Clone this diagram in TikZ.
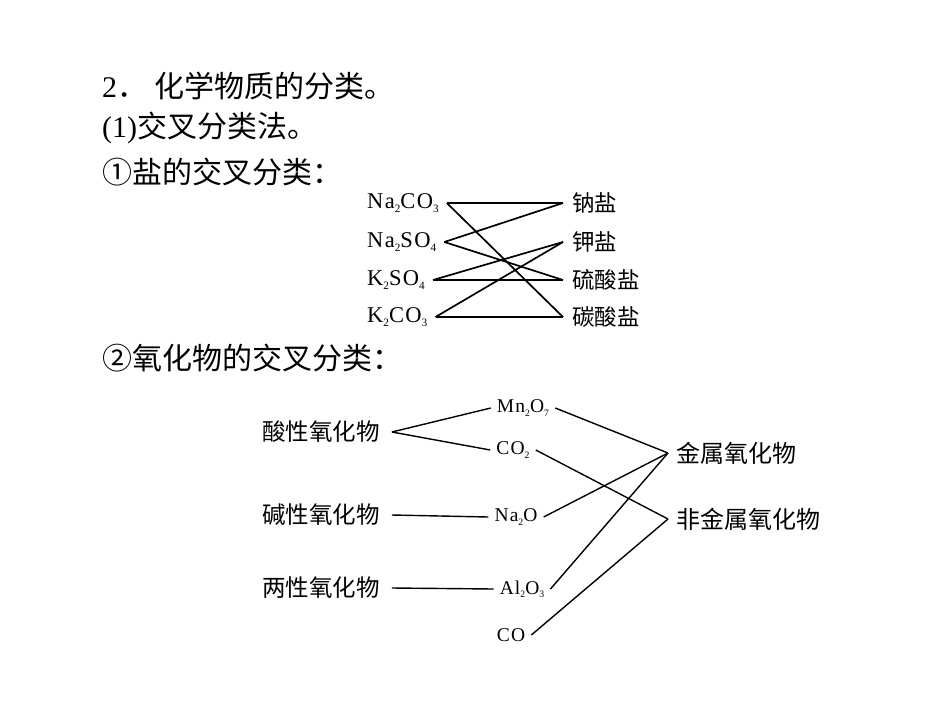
\documentclass[tikz,border=0pt]{standalone}
\usepackage{fontspec}
\setmainfont{Liberation Serif}
\newfontfamily\cjk{Noto Sans CJK SC}
\newfontfamily\formula[LetterSpace=6]{Liberation Serif}
\newcommand\subidx[1]{\raisebox{-0.35ex}{\scalebox{0.5}{#1}}}

\begin{document}
\begin{tikzpicture}[x=1pt,y=-1pt]

\tikzset{headline/.style={anchor=west, inner sep=0pt, font=\cjk\fontsize{30}{36}\selectfont}}
\tikzset{saltnode/.style={anchor=west, inner xsep=8pt, inner ysep=2pt, font=\formula\fontsize{22.5}{26}\selectfont}}
\tikzset{saltclass/.style={anchor=west, inner xsep=9pt, inner ysep=2pt, font=\cjk\fontsize{22.5}{26}\selectfont}}
\tikzset{oxnode/.style={inner xsep=6pt, inner ysep=2pt, font=\formula\fontsize{19.5}{23}\selectfont}}
\tikzset{oxclass/.style={anchor=west, inner xsep=12pt, inner ysep=2pt, font=\cjk\fontsize{23.5}{28}\selectfont}}
\tikzset{oxgroup/.style={anchor=west, inner xsep=8pt, inner ysep=2pt, font=\cjk\fontsize{24}{28}\selectfont}}
\tikzset{thickline/.style={line width=1.7pt}}
\tikzset{thinline/.style={line width=1.4pt}}

\useasboundingbox (0,0) rectangle (945,718);

\node[headline] (title) at (102,86) {{\rmfamily 2}．\hspace{7pt}化学物质的分类。};
\node[headline] (method) at (102,128) {{\rmfamily (1)}交叉分类法。};
\node[headline] (salthead) at (102,172) {①盐的交叉分类：};
\node[headline] (oxhead) at (102,358) {②氧化物的交叉分类：};

\node[saltnode] (na2co3) at (359,203) {Na\subidx{2}CO\subidx{3}};
\node[saltnode] (na2so4) at (359,242) {Na\subidx{2}SO\subidx{4}};
\node[saltnode] (k2so4) at (359,280) {K\subidx{2}SO\subidx{4}};
\node[saltnode] (k2co3) at (359,317) {K\subidx{2}CO\subidx{3}};

\node[saltclass] (nayan) at (563,203) {钠盐};
\node[saltclass] (jiayan) at (563,242) {钾盐};
\node[saltclass] (liusuan) at (563,280) {硫酸盐};
\node[saltclass] (tansuan) at (563,317) {碳酸盐};

\draw[thickline] (na2co3.east) -- (nayan.west);
\draw[thickline] (na2co3.east) -- (tansuan.west);
\draw[thickline] (na2so4.east) -- (nayan.west);
\draw[thickline] (na2so4.east) -- (liusuan.west);
\draw[thickline] (k2so4.east) -- (liusuan.west);
\draw[thickline] (k2so4.east) -- (jiayan.west);
\draw[thickline] (k2co3.east) -- (tansuan.west);
\draw[thickline] (k2co3.east) -- (jiayan.west);

\node[oxclass] (acidic) at (250,432) {酸性氧化物};
\node[oxclass] (basic) at (250,515) {碱性氧化物};
\node[oxclass] (amph) at (250,588) {两性氧化物};

\node[oxnode] (mn2o7) at (523,408) {Mn\subidx{2}O\subidx{7}};
\node[oxnode] (co2) at (513,450) {CO\subidx{2}};
\node[oxnode] (na2o) at (516,517) {Na\subidx{2}O};
\node[oxnode] (al2o3) at (522,589) {Al\subidx{2}O\subidx{3}};
\node[oxnode] (co) at (511,635) {CO};

\node[oxgroup] (metal) at (668,453) {金属氧化物};
\node[oxgroup] (nonmetal) at (668,519) {非金属氧化物};

\draw[thinline] (acidic.east) -- (mn2o7.west);
\draw[thinline] (acidic.east) -- (co2.west);
\draw[thinline] (basic.east) -- (na2o.west);
\draw[thinline] (amph.east) -- (al2o3.west);
\draw[thinline] (mn2o7.east) -- (metal.west);
\draw[thinline] (na2o.east) -- (metal.west);
\draw[thinline] (al2o3.east) -- (metal.west);
\draw[thinline] (co2.east) -- (nonmetal.west);
\draw[thinline] (co.east) -- (nonmetal.west);

\end{tikzpicture}
\end{document}
